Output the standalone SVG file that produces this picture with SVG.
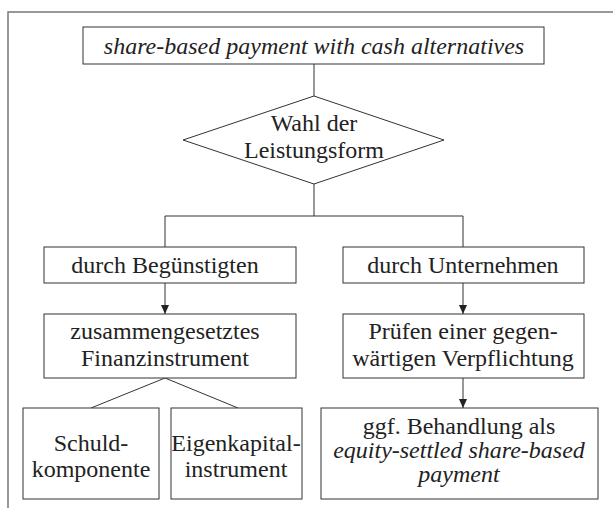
<svg xmlns="http://www.w3.org/2000/svg" width="613" height="508" viewBox="0 0 613 508">
<defs>
<marker id="arr" markerWidth="9" markerHeight="8" refX="9" refY="4" orient="auto" markerUnits="userSpaceOnUse">
<path d="M0,0 L9,4 L0,8 Z" fill="#222"/>
</marker>
<style>
.box{fill:#fff;stroke:#333;stroke-width:1}
.ln{fill:none;stroke:#333;stroke-width:1}
text{font-family:'Liberation Serif','DejaVu Serif',serif;font-size:24px;fill:#222;text-anchor:middle}
.i{font-style:italic}
.frame{fill:none;stroke:#777;stroke-width:1.5}
</style>
</defs>
<rect width="613" height="508" fill="#fff"/>
<path class="frame" d="M8,508 V12 H613"/>
<g id="connectors">
<path class="ln" d="M314,64 V96"/>
<path class="ln" d="M314,184 V216 M165,247 V216 H463 V247"/>
<path class="ln" d="M165,283 V314" marker-end="url(#arr)"/>
<path class="ln" d="M463,283 V314" marker-end="url(#arr)"/>
<path class="ln" d="M463,378 V408" marker-end="url(#arr)"/>
<path class="ln" d="M91,408 L165,378 L238,408"/>
</g>
<g id="n-top"><rect class="box" x="83" y="27" width="461" height="37"/><text class="i" x="314" y="54">share-based payment with cash alternatives</text></g>
<g id="n-wahl"><path class="box" d="M314,96 L444,140 L314,184 L183,140 Z"/><text x="314" y="131">Wahl der</text><text x="314" y="158">Leistungsform</text></g>
<g id="n-beg"><rect class="box" x="44" y="247" width="252" height="36"/><text x="165" y="273">durch Begünstigten</text></g>
<g id="n-unt"><rect class="box" x="343" y="247" width="241" height="36"/><text x="463" y="273">durch Unternehmen</text></g>
<g id="n-zus"><rect class="box" x="44" y="314" width="252" height="64"/><text x="165" y="339">zusammengesetztes</text><text x="165" y="366">Finanzinstrument</text></g>
<g id="n-pruef"><rect class="box" x="343" y="314" width="241" height="64"/><text x="463" y="339">Prüfen einer gegen-</text><text x="463" y="366">wärtigen Verpflichtung</text></g>
<g id="n-schuld"><rect class="box" x="23" y="408" width="136" height="91"/><text x="91" y="451">Schuld-</text><text x="91" y="477">komponente</text></g>
<g id="n-eigen"><rect class="box" x="171" y="408" width="131" height="91"/><text x="236" y="451">Eigenkapital-</text><text x="236" y="477">instrument</text></g>
<g id="n-ggf"><rect class="box" x="321" y="408" width="277" height="91"/><text x="459" y="434">ggf. Behandlung als</text><text class="i" x="459" y="458">equity-settled share-based</text><text class="i" x="459" y="482">payment</text></g>
</svg>
